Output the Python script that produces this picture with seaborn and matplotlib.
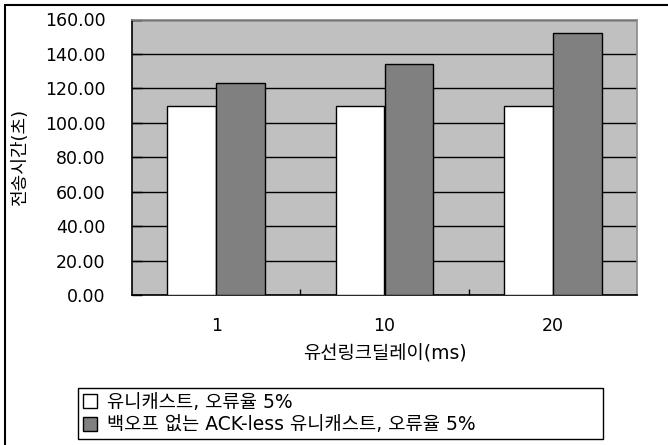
import matplotlib
matplotlib.use("Agg")
import matplotlib.pyplot as plt
import seaborn as sns
import pandas as pd
from matplotlib.lines import Line2D
from matplotlib.ticker import FormatStrFormatter, FixedLocator

# Transmission time per wired-link delay, for two unicast schemes
delays = ["1", "10", "20"]
series_names = ["유니캐스트, 오류율 5%", "백오프 없는 ACK-less 유니캐스트, 오류율 5%"]
unicast = [110.0, 110.0, 110.0]
ackless = [123.0, 134.0, 152.0]
y_ticks = [0, 20, 40, 60, 80, 100, 120, 140, 160]

df = pd.DataFrame({
    "delay": delays * 2,
    "time": unicast + ackless,
    "scheme": [series_names[0]] * 3 + [series_names[1]] * 3,
})

sns.set_theme(style="white")
plt.rcParams["font.family"] = ["DejaVu Sans", "Noto Sans CJK KR"]
plt.rcParams["axes.unicode_minus"] = False
for key in ["text.color", "axes.labelcolor", "xtick.labelcolor", "ytick.labelcolor"]:
    plt.rcParams[key] = "black"

W, H = 668, 445
fig = plt.figure(figsize=(W / 100, H / 100), dpi=100)
ax = fig.add_axes([132 / W, 1 - 295 / H, (637 - 132) / W, (295 - 19.5) / H])
ax.set_facecolor("#C0C0C0")

sns.barplot(data=df, x="delay", y="time", hue="scheme", order=delays,
            hue_order=series_names, palette=["#FFFFFF", "#808080"],
            edgecolor="black", linewidth=1.0, width=0.58, gap=0,
            errorbar=None, ax=ax, legend=False, zorder=3)

ax.set_ylim(0, 160)
ax.set_xlim(-0.5, 2.5)
ax.set_yticks(y_ticks)
ax.yaxis.set_major_formatter(FormatStrFormatter("%.2f"))
ax.grid(axis="y", color="black", linewidth=1.0, zorder=0)
ax.set_axisbelow(True)

ax.tick_params(axis="y", direction="in", length=7, width=1, color="black",
               labelcolor="black", pad=19, labelsize=12.5, left=True)
ax.tick_params(axis="x", which="major", length=0, pad=15.5, labelsize=12.5,
               labelcolor="black")
ax.xaxis.set_minor_locator(FixedLocator([0.5, 1.5]))
ax.tick_params(axis="x", which="minor", direction="in", length=4, width=1,
               color="black", bottom=True)

for side in ["left", "bottom"]:
    ax.spines[side].set_color("black")
    ax.spines[side].set_linewidth(1.2)
for side in ["top", "right"]:
    ax.spines[side].set_visible(True)
    ax.spines[side].set_color("#8a8a8a")
    ax.spines[side].set_linewidth(1.2)

ax.set_xlabel("유선링크딜레이(ms)", fontsize=13.5, color="black")
ax.xaxis.set_label_coords(0.5, -(344 - 295) / 275.5)
ax.set_ylabel("전송시간(초)", fontsize=13, color="black")
ax.yaxis.set_label_coords(-(132 - 29) / 505, 0.5)

handles = [
    Line2D([0], [0], marker="s", linestyle="none", markersize=10,
           markerfacecolor=c, markeredgecolor="black", markeredgewidth=1)
    for c in ["#FFFFFF", "#808080"]
]
leg = fig.legend(handles, series_names, loc="lower left", mode="expand",
                 bbox_to_anchor=(78 / W, 1 - 439 / H, (603 - 78) / W, 60 / H),
                 borderaxespad=0, fontsize=13.5, frameon=True, fancybox=False,
                 edgecolor="black", framealpha=1, handlelength=0.8,
                 handletextpad=0.5, borderpad=0.25, labelspacing=0.2)
leg.get_frame().set_linewidth(1.0)
for t in leg.get_texts():
    t.set_color("black")

# Outer chart frame along the top and left edges
fig.add_artist(Line2D([5 / W, 5 / W], [0, 1 - 4.5 / H], color="black",
                      linewidth=1.5, transform=fig.transFigure))
fig.add_artist(Line2D([5 / W, 1], [1 - 4.5 / H, 1 - 4.5 / H], color="black",
                      linewidth=1.5, transform=fig.transFigure))

fig.savefig("out.png", dpi=100)
